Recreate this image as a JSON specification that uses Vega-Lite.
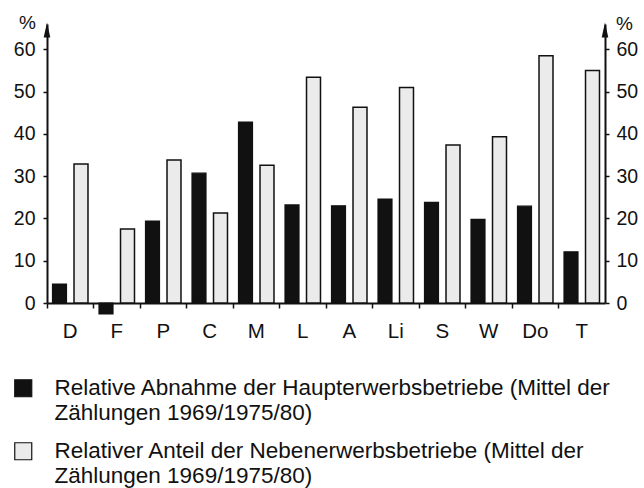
{
  "$schema": "https://vega.github.io/schema/vega-lite/v6.json",
  "width": 558,
  "height": 279,
  "autosize": {"type": "none"},
  "padding": {"left": 47, "top": 24, "right": 39, "bottom": 185},
  "background": "white",
  "config": {
    "view": {"stroke": null},
    "font": "Liberation Sans",
    "axis": {"labelFont": "Liberation Sans", "labelFontSize": 19.5, "labelColor": "#111", "domainColor": "#111", "tickColor": "#111", "grid": false, "titleFont": "Liberation Sans", "titleColor": "#111"},
    "legend": {"labelFont": "Liberation Sans", "labelColor": "#111"},
    "style": {"guide-label": {"lineHeight": 25}}
  },
  "data": {
    "values": [
      {"region": "D", "series": "Relative Abnahme der Haupterwerbsbetriebe (Mittel der Zählungen 1969/1975/80)", "value": 4.5},
      {"region": "D", "series": "Relativer Anteil der Nebenerwerbsbetriebe (Mittel der Zählungen 1969/1975/80)", "value": 32.9},
      {"region": "F", "series": "Relative Abnahme der Haupterwerbsbetriebe (Mittel der Zählungen 1969/1975/80)", "value": -2.6},
      {"region": "F", "series": "Relativer Anteil der Nebenerwerbsbetriebe (Mittel der Zählungen 1969/1975/80)", "value": 17.5},
      {"region": "P", "series": "Relative Abnahme der Haupterwerbsbetriebe (Mittel der Zählungen 1969/1975/80)", "value": 19.4},
      {"region": "P", "series": "Relativer Anteil der Nebenerwerbsbetriebe (Mittel der Zählungen 1969/1975/80)", "value": 33.8},
      {"region": "C", "series": "Relative Abnahme der Haupterwerbsbetriebe (Mittel der Zählungen 1969/1975/80)", "value": 30.7},
      {"region": "C", "series": "Relativer Anteil der Nebenerwerbsbetriebe (Mittel der Zählungen 1969/1975/80)", "value": 21.3},
      {"region": "M", "series": "Relative Abnahme der Haupterwerbsbetriebe (Mittel der Zählungen 1969/1975/80)", "value": 42.8},
      {"region": "M", "series": "Relativer Anteil der Nebenerwerbsbetriebe (Mittel der Zählungen 1969/1975/80)", "value": 32.6},
      {"region": "L", "series": "Relative Abnahme der Haupterwerbsbetriebe (Mittel der Zählungen 1969/1975/80)", "value": 23.2},
      {"region": "L", "series": "Relativer Anteil der Nebenerwerbsbetriebe (Mittel der Zählungen 1969/1975/80)", "value": 53.4},
      {"region": "A", "series": "Relative Abnahme der Haupterwerbsbetriebe (Mittel der Zählungen 1969/1975/80)", "value": 23.0},
      {"region": "A", "series": "Relativer Anteil der Nebenerwerbsbetriebe (Mittel der Zählungen 1969/1975/80)", "value": 46.3},
      {"region": "Li", "series": "Relative Abnahme der Haupterwerbsbetriebe (Mittel der Zählungen 1969/1975/80)", "value": 24.6},
      {"region": "Li", "series": "Relativer Anteil der Nebenerwerbsbetriebe (Mittel der Zählungen 1969/1975/80)", "value": 51.0},
      {"region": "S", "series": "Relative Abnahme der Haupterwerbsbetriebe (Mittel der Zählungen 1969/1975/80)", "value": 23.8},
      {"region": "S", "series": "Relativer Anteil der Nebenerwerbsbetriebe (Mittel der Zählungen 1969/1975/80)", "value": 37.4},
      {"region": "W", "series": "Relative Abnahme der Haupterwerbsbetriebe (Mittel der Zählungen 1969/1975/80)", "value": 19.8},
      {"region": "W", "series": "Relativer Anteil der Nebenerwerbsbetriebe (Mittel der Zählungen 1969/1975/80)", "value": 39.3},
      {"region": "Do", "series": "Relative Abnahme der Haupterwerbsbetriebe (Mittel der Zählungen 1969/1975/80)", "value": 22.9},
      {"region": "Do", "series": "Relativer Anteil der Nebenerwerbsbetriebe (Mittel der Zählungen 1969/1975/80)", "value": 58.5},
      {"region": "T", "series": "Relative Abnahme der Haupterwerbsbetriebe (Mittel der Zählungen 1969/1975/80)", "value": 12.1},
      {"region": "T", "series": "Relativer Anteil der Nebenerwerbsbetriebe (Mittel der Zählungen 1969/1975/80)", "value": 55.0}
    ]
  },
  "layer": [
    {
      "transform": [{"filter": "indexof(datum.series, 'Abnahme') >= 0"}],
      "mark": {"type": "bar", "stroke": "#111", "strokeWidth": 1.2},
      "encoding": {
        "x": {"field": "region", "type": "nominal", "scale": {"domain": ["D", "F", "P", "C", "M", "L", "A", "Li", "S", "W", "Do", "T"], "paddingInner": 0, "paddingOuter": 0},
          "axis": {"title": null, "labelAngle": 0, "bandPosition": 0, "tickSize": 5, "tickWidth": 1.5, "domainWidth": 2, "labelPadding": 13, "labelBaseline": "top", "labelFontSize": 20.5}},
        "xOffset": {"field": "series", "type": "nominal", "scale": {"paddingInner": 0.35, "paddingOuter": 0.256}},
        "y": {"field": "value", "type": "quantitative", "scale": {"domain": [0, 66], "nice": false, "zero": false},
          "axis": {"orient": "left", "values": [0, 10, 20, 30, 40, 50, 60], "tickSize": 4, "tickWidth": 1.5, "domainWidth": 2, "labelPadding": 8,
            "title": "%", "titleAngle": 0, "titleX": -20, "titleY": -2, "titleAlign": "center", "titleBaseline": "middle", "titleFontSize": 19, "titleFontWeight": "normal"}},
        "fill": {"field": "series", "type": "nominal",
          "scale": {"domain": ["Relative Abnahme der Haupterwerbsbetriebe (Mittel der Zählungen 1969/1975/80)", "Relativer Anteil der Nebenerwerbsbetriebe (Mittel der Zählungen 1969/1975/80)"], "range": ["#111111", "#ebebeb"]},
          "legend": {"title": null, "orient": "none", "legendX": -35, "legendY": 353, "direction": "vertical", "symbolType": "square", "symbolSize": 289, "symbolStrokeColor": "#111", "symbolStrokeWidth": 1.2, "symbolOpacity": 1, "labelFontSize": 22.5, "labelLimit": 700, "labelOffset": 20, "rowPadding": 15, "padding": 0,
            "labelExpr": "[slice(datum.label, 0, indexof(datum.label, ' Zählungen')), slice(datum.label, indexof(datum.label, 'Zählungen'))]"}}
      }
    },
    {
      "transform": [{"filter": "indexof(datum.series, 'Anteil') >= 0"}],
      "mark": {"type": "bar", "stroke": "#111", "strokeWidth": 1.5},
      "encoding": {
        "x": {"field": "region", "type": "nominal"},
        "xOffset": {"field": "series", "type": "nominal"},
        "y": {"field": "value", "type": "quantitative",
          "axis": {"orient": "right", "values": [0, 10, 20, 30, 40, 50, 60], "tickSize": 4, "tickWidth": 1.5, "domainWidth": 2, "labelPadding": 7,
            "title": "%", "titleAngle": 0, "titleX": 19, "titleY": -1, "titleAlign": "center", "titleBaseline": "middle", "titleFontSize": 19, "titleFontWeight": "normal"}},
        "fill": {"field": "series", "type": "nominal"}
      }
    },
    {
      "data": {"values": [{"side": "left"}]},
      "mark": {"type": "point", "shape": "M0,-1.25L0.55,1.25L-0.55,1.25Z", "filled": true, "color": "#111", "size": 144, "opacity": 1},
      "encoding": {
        "x": {"datum": "D", "bandPosition": 0},
        "y": {"datum": 64.6, "axis": null}
      }
    },
    {
      "data": {"values": [{"side": "right"}]},
      "mark": {"type": "point", "shape": "M0,-1.25L0.55,1.25L-0.55,1.25Z", "filled": true, "color": "#111", "size": 144, "opacity": 1},
      "encoding": {
        "x": {"datum": "T", "bandPosition": 1},
        "y": {"datum": 64.6, "axis": null}
      }
    }
  ],
  "resolve": {"axis": {"y": "independent"}}
}
